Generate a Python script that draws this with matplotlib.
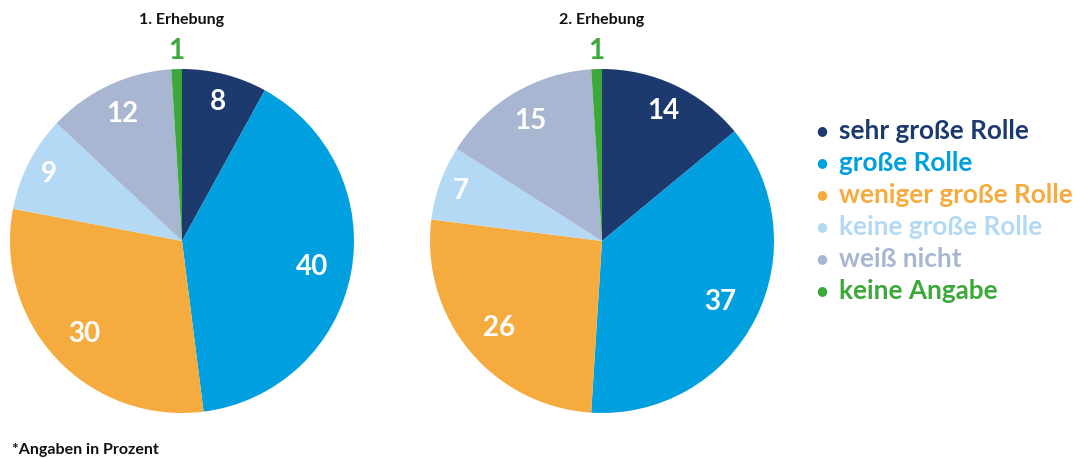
import matplotlib
matplotlib.use("Agg")
import matplotlib.pyplot as plt
import numpy as np

plt.rcParams['font.family'] = ['Lato', 'DejaVu Sans']

categories = ["sehr große Rolle", "große Rolle", "weniger große Rolle",
              "keine große Rolle", "weiß nicht", "keine Angabe"]
survey_titles = ["1. Erhebung", "2. Erhebung"]
values_1 = [8, 40, 30, 9, 12, 1]
values_2 = [14, 37, 26, 7, 15, 1]

colors = ["#1d3a6e", "#009fdf", "#f6ab3f", "#b3d9f4", "#a8b6d1", "#3ca83a"]
label_colors = ["white", "white", "white", "white", "white", "#3ca83a"]
label_dist = [0.84, 0.77, 0.78, 0.87, 0.82, 1.11]

W, H = 1086, 460
fig = plt.figure(figsize=(W / 100, H / 100), dpi=100)

R = 172
centers = [(182, 242), (602, 242)]


def draw_pie(cx, cy, values, title):
    ax = fig.add_axes([(cx - R) / W, (H - cy - R) / H, 2 * R / W, 2 * R / H])
    wedges, _ = ax.pie(values, colors=colors, startangle=90, counterclock=False,
                       radius=1, wedgeprops=dict(linewidth=0))
    for w, v, c, d in zip(wedges, values, label_colors, label_dist):
        ang = np.deg2rad((w.theta1 + w.theta2) / 2)
        ax.text(d * np.cos(ang), d * np.sin(ang), str(v), color=c,
                ha="center", va="center", fontsize=20, fontweight="bold")
    ax.set_xlim(-1, 1)
    ax.set_ylim(-1, 1)
    ax.set_aspect("equal")
    ax.axis("off")
    fig.text(cx / W, 1 - 20 / H, title, ha="center", va="center",
             fontsize=11.5, fontweight="bold", color="#111111")


draw_pie(*centers[0], values_1, survey_titles[0])
draw_pie(*centers[1], values_2, survey_titles[1])

# legend
y0, step = 131, 32.0
for i, (name, col) in enumerate(zip(categories, colors)):
    y = 1 - (y0 + i * step) / H
    fig.text(822 / W, y, "\u25CF", color=col, fontsize=9, ha="center", va="center",
             family=['DejaVu Sans'])
    fig.text(839 / W, y, name, color=col, fontsize=18.8, fontweight="bold",
             ha="left", va="center")

fig.text(12 / W, 1 - 450 / H, "*Angaben in Prozent", fontsize=11.5, fontweight="bold",
         color="#111111", ha="left", va="center")

fig.savefig("out.png", dpi=100)
